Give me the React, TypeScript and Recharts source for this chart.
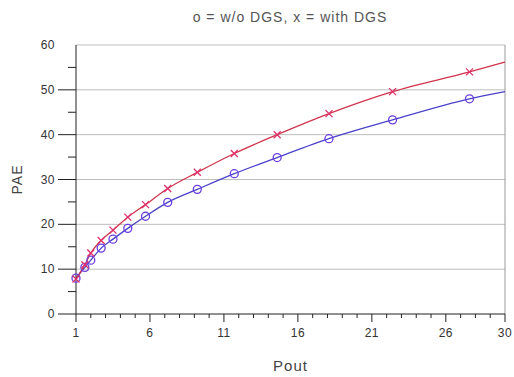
import { LineChart, Line, XAxis, YAxis, ReferenceLine, Label } from 'recharts'

// Pout values where the markers sit (last point = curve end, no marker)
const pout = [1, 1.6, 2.0, 2.7, 3.5, 4.5, 5.7, 7.2, 9.2, 11.7, 14.6, 18.1, 22.4, 27.6, 30]
// o = w/o DGS
const paeNoDgs = [8.0, 10.4, 12.0, 14.7, 16.7, 19.1, 21.8, 24.9, 27.8, 31.3, 34.9, 39.1, 43.3, 48.0, 49.6]
// x = with DGS
const paeDgs = [7.8, 11.0, 13.6, 16.4, 18.7, 21.6, 24.4, 28.0, 31.6, 35.8, 40.0, 44.7, 49.6, 54.0, 56.2]

const xMajor = [1, 6, 11, 16, 21, 26, 30]
const xTicks = Array.from({ length: 30 }, (_, i) => i + 1)
const yTicks = [0, 5, 10, 15, 20, 25, 30, 35, 40, 45, 50, 55, 60]
const gridValues = [10, 20, 30, 40, 50, 60]

const data = pout.map((p, i) => ({ pout: p, noDgs: paeNoDgs[i], dgs: paeDgs[i] }))
const last = pout.length - 1

const BLUE = '#4a42c8'
const RED = '#d0344c'

function CircleDot(props: any) {
  const { cx, cy, index } = props
  if (index === last || cx == null) return <g key={`c${index}`} />
  return <circle key={`c${index}`} cx={cx} cy={cy} r={4} fill="none" stroke="#6a3ee0" strokeWidth={1.3} />
}

function CrossDot(props: any) {
  const { cx, cy, index } = props
  if (index === last || cx == null) return <g key={`x${index}`} />
  const s = 3.5
  return (
    <g key={`x${index}`} stroke="#e0306a" strokeWidth={1.3}>
      <line x1={cx - s} y1={cy - s} x2={cx + s} y2={cy + s} />
      <line x1={cx - s} y1={cy + s} x2={cx + s} y2={cy - s} />
    </g>
  )
}

function XTick(props: any) {
  const { x, y, payload } = props
  const major = xMajor.includes(payload.value)
  return (
    <g>
      <line x1={x} y1={y} x2={x} y2={y + (major ? 8 : 4)} stroke="#222" />
      {major && (
        <text x={x} y={y + 23} textAnchor="middle" fontSize={12} fill="#333" letterSpacing={0.5}>
          {payload.value}
        </text>
      )}
    </g>
  )
}

function YTick(props: any) {
  const { x, y, payload } = props
  const major = payload.value % 10 === 0
  return (
    <g>
      {payload.value !== 60 && (
        <line x1={x} y1={y} x2={x - (major ? 18 : 8)} y2={y} stroke="#222" />
      )}
      {major && (
        <text x={x - 21} y={y + 4} textAnchor="end" fontSize={12} fill="#333" letterSpacing={0.5}>
          {payload.value}
        </text>
      )}
    </g>
  )
}

function YLabel(props: any) {
  const { viewBox } = props
  const cy = viewBox.y + viewBox.height / 2
  return (
    <text x={22} y={cy} transform={`rotate(-90, 22, ${cy})`} textAnchor="middle" fontSize={14} fill="#444" letterSpacing={1}>
      PAE
    </text>
  )
}

export default function App() {
  return (
    <div
      style={{
        position: 'absolute',
        left: 0,
        top: 0,
        width: 514,
        height: 377,
        background: '#fff',
        fontFamily: '"Liberation Sans", Arial, sans-serif',
      }}
    >
      <div
        style={{
          position: 'absolute',
          top: 9,
          left: 33,
          width: 514,
          textAlign: 'center',
          fontSize: 14,
          letterSpacing: 1,
          color: '#555',
        }}
      >
        o = w/o DGS, x = with DGS
      </div>
      <LineChart width={514} height={377} data={data} margin={{ top: 45, right: 9, left: 0, bottom: 0 }}>
        <XAxis
          dataKey="pout"
          type="number"
          domain={[1, 30]}
          ticks={xTicks}
          interval={0}
          tick={<XTick />}
          tickLine={false}
          tickSize={0}
          tickMargin={0}
          height={63}
          axisLine={{ stroke: '#222' }}
        >
          <Label value="Pout" position="insideBottom" offset={6} fontSize={15} fill="#444" letterSpacing={1} />
        </XAxis>
        <YAxis
          type="number"
          domain={[0, 60]}
          ticks={yTicks}
          interval={0}
          width={76}
          tick={<YTick />}
          tickLine={false}
          tickSize={0}
          tickMargin={0}
          axisLine={{ stroke: '#222' }}
        >
          <Label content={<YLabel />} />
        </YAxis>
        {gridValues.map((v) => (
          <ReferenceLine key={v} y={v} stroke="#bdbdbd" />
        ))}
        <ReferenceLine x={30} stroke="#9a9a9a" />
        <Line
          dataKey="noDgs"
          type="monotone"
          stroke={BLUE}
          strokeWidth={1.3}
          dot={(p: any) => <CircleDot {...p} key={`c${p.index}`} />}
          isAnimationActive={false}
        />
        <Line
          dataKey="dgs"
          type="monotone"
          stroke={RED}
          strokeWidth={1.3}
          dot={(p: any) => <CrossDot {...p} key={`x${p.index}`} />}
          isAnimationActive={false}
        />
      </LineChart>
    </div>
  )
}
